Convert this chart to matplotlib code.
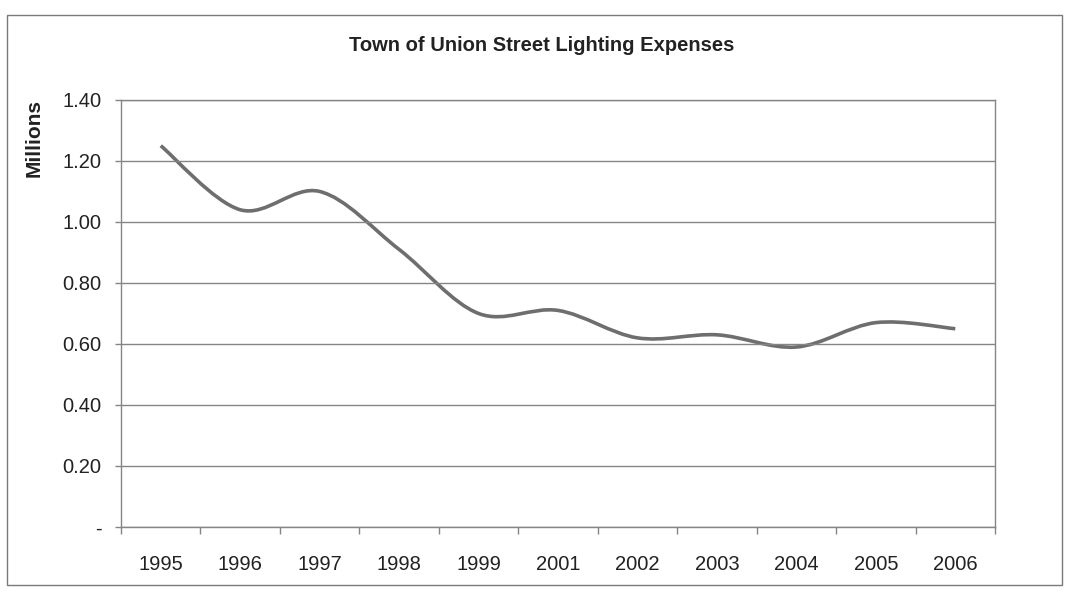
import numpy as np
import matplotlib
matplotlib.use("Agg")
import matplotlib.pyplot as plt
from matplotlib.path import Path
from matplotlib.patches import PathPatch, Rectangle
from matplotlib.ticker import FuncFormatter

# data (millions of dollars)
years = ["1995", "1996", "1997", "1998", "1999", "2001",
         "2002", "2003", "2004", "2005", "2006"]
expenses = [1.25, 1.04, 1.10, 0.91, 0.70, 0.71, 0.62, 0.63, 0.59, 0.67, 0.65]
y_ticks = [0, 0.2, 0.4, 0.6, 0.8, 1.0, 1.2, 1.4]

plt.rcParams['font.family'] = ['Liberation Sans', 'DejaVu Sans']

line_color = '#6e6e6e'
grid_color = '#858585'


def smooth_path(xs, ys):
    # Excel-style smoothed line: cubic bezier through every point
    pts = np.column_stack([xs, ys])
    n = len(pts)
    verts = [pts[0]]
    codes = [Path.MOVETO]
    for i in range(n - 1):
        p0 = pts[max(i - 1, 0)]
        p1 = pts[i]
        p2 = pts[i + 1]
        p3 = pts[min(i + 2, n - 1)]
        c1 = p1 + (p2 - p0) / 6
        c2 = p2 - (p3 - p1) / 6
        verts += [c1, c2, p2]
        codes += [Path.CURVE4] * 3
    return Path(verts, codes)


fig = plt.figure(figsize=(10.69, 5.95), dpi=100)
ax = fig.add_axes([0.1132, 0.1143, 0.8176, 0.7177])

x = np.arange(len(years))
ax.add_patch(PathPatch(smooth_path(x, expenses), facecolor='none',
                       edgecolor=line_color, lw=2.6, capstyle='butt'))

ax.set_xlim(-0.5, len(years) - 0.5)
ax.set_ylim(0, 1.4)

ax.set_yticks(y_ticks)
ax.yaxis.set_major_formatter(FuncFormatter(lambda v, p: '-' if v == 0 else f"{v:.2f}"))
ax.grid(axis='y', color=grid_color, lw=1)

# ticks between categories, labels at the centres
ax.set_xticks(np.arange(-0.5, len(years), 1.0))
ax.set_xticklabels([])
ax.set_xticks(x, minor=True)
ax.set_xticklabels(years, minor=True)
ax.tick_params(axis='x', which='major', length=5, width=1, color=grid_color, direction='out')
ax.tick_params(axis='x', which='minor', length=0, pad=20, labelsize=14.5, labelcolor='#222222')
ax.tick_params(axis='y', length=4, width=1, color=grid_color, pad=10, labelsize=14.5,
               labelcolor='#222222')

for s in ax.spines.values():
    s.set_color(grid_color)
    s.set_linewidth(1)

fig.text(0.507, 0.924, "Town of Union Street Lighting Expenses", ha='center', va='center',
         fontsize=14.5, fontweight='bold', color='#222222')
fig.text(0.032, 0.768, "Millions", rotation=90, ha='center', va='center',
         fontsize=15, fontweight='bold', color='#222222')

fig.patches.append(Rectangle((0.007, 0.017), 0.986, 0.958, transform=fig.transFigure,
                             fill=False, edgecolor='#7a7a7a', lw=1))

fig.savefig("out.png", dpi=100)
